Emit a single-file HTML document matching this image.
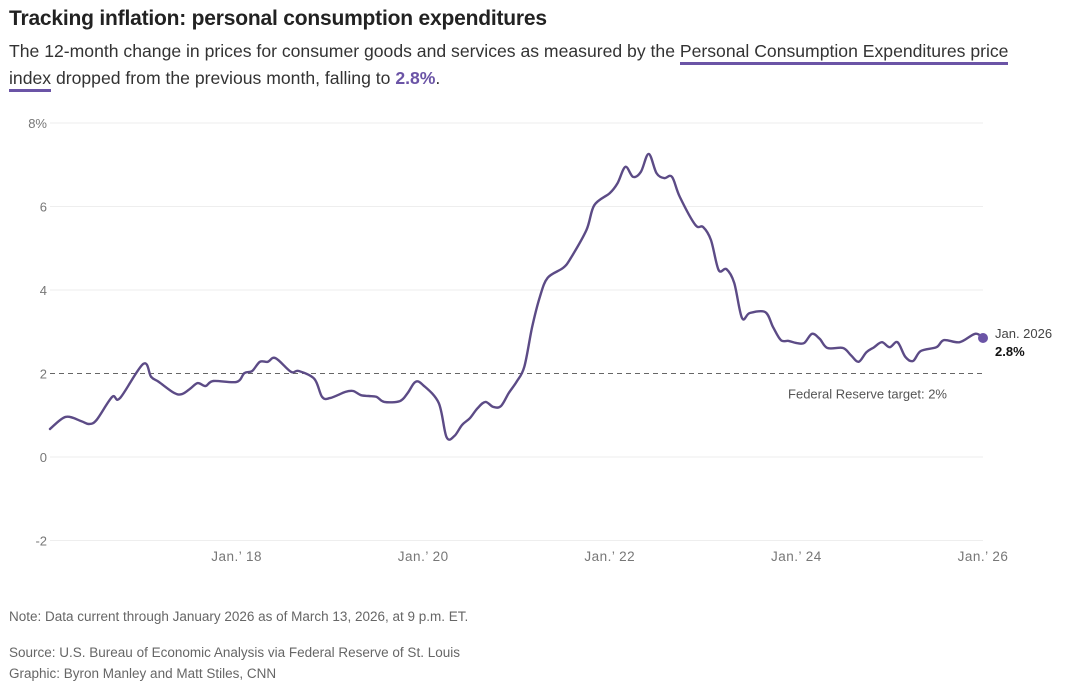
<!DOCTYPE html>
<html><head><meta charset="utf-8"><style>
body{margin:0;width:1080px;height:685px;background:#fff;font-family:"Liberation Sans",sans-serif;position:relative;overflow:hidden}
.t{position:absolute;left:9px;top:7px;font-size:21px;font-weight:bold;color:#222;letter-spacing:-0.2px}
.s{position:absolute;left:9px;top:38px;font-size:17.6px;color:#333;line-height:27px;width:1045px}
.u{border-bottom:3px solid #6b54a6;padding-bottom:1px}
.b{color:#6b54a6;font-weight:bold}
.f{position:absolute;left:9px;font-size:13.5px;color:#666}
</style></head><body>
<div class="t">Tracking inflation: personal consumption expenditures</div>
<div class="s">The 12-month change in prices for consumer goods and services as measured by the <span class="u">Personal Consumption Expenditures price index</span> dropped from the previous month, falling to <span class="b">2.8%</span>.</div>
<svg id="c" width="1080" height="685" style="position:absolute;left:0;top:0"></svg>
<div class="f" style="top:609px">Note: Data current through January 2026 as of March 13, 2026, at 9 p.m. ET.</div>
<div class="f" style="top:645px">Source: U.S. Bureau of Economic Analysis via Federal Reserve of St. Louis</div>
<div class="f" style="top:666px">Graphic: Byron Manley and Matt Stiles, CNN</div>
<script>
const months=[0,2,4,5,6,8,9,12,13,14,16,17,18,19,20,21,24,25,26,27,28,29,31,32,34,35,36,38,39,40,41,42,43,45,46,47,48,50,51,52,53,54,55,56,57,58,59,60,61,62,63,64,66,67,69,70,72,73,74,75,76,77,78,79,80,81,83,84,85,86,87,88,89,90,92,93,94,95,96,97,98,99,100,102,103,104,105,106,107,108,109,110,111,112,114,115,117,119,120];
const values=[0.67,0.96,0.86,0.79,0.89,1.44,1.41,2.23,1.92,1.8,1.53,1.51,1.63,1.77,1.7,1.82,1.8,2.01,2.06,2.28,2.28,2.37,2.04,2.06,1.87,1.44,1.41,1.56,1.58,1.48,1.46,1.44,1.32,1.34,1.53,1.8,1.72,1.29,0.48,0.5,0.77,0.93,1.17,1.32,1.2,1.22,1.53,1.8,2.16,3.1,3.83,4.29,4.53,4.77,5.44,6.03,6.32,6.56,6.95,6.71,6.83,7.26,6.8,6.68,6.71,6.23,5.56,5.51,5.2,4.48,4.5,4.17,3.33,3.45,3.47,3.11,2.8,2.78,2.73,2.73,2.95,2.83,2.61,2.61,2.44,2.28,2.51,2.63,2.75,2.63,2.75,2.4,2.3,2.54,2.63,2.8,2.75,2.95,2.85];
const yTicks=[-2,0,2,4,6,8];
const yTickLabels=["-2","0","2","4","6","8%"];
const xTicks=[24,48,72,96,120];
const xTickLabels=["Jan.\u2019 18","Jan.\u2019 20","Jan.\u2019 22","Jan.\u2019 24","Jan.\u2019 26"];
const target=2;
const NS="http://www.w3.org/2000/svg",svg=document.getElementById('c');
const x=m=>50+m*(983-50)/120, y=v=>457-v*41.75;
function mk(t,a){const e=document.createElementNS(NS,t);for(const k in a)e.setAttribute(k,a[k]);svg.appendChild(e);return e;}
yTicks.forEach((v,i)=>{
 if(v!==target){const g=mk('line',{x1:50,x2:983,y1:y(v),y2:y(v),stroke:'#eee','stroke-width':1});
 
 }
 const t=mk('text',{x:47,y:y(v)+5,'text-anchor':'end','font-size':13,fill:'#777','font-family':'Liberation Sans'});
 t.textContent=yTickLabels[i];
 
 
});
xTicks.forEach((m,i)=>{
 const t=mk('text',{x:x(m),y:561,'text-anchor':'middle','font-size':13.5,fill:'#777','font-family':'Liberation Sans','letter-spacing':'0.5'});
 t.textContent=xTickLabels[i];
 
 
});
const tl=mk('line',{x1:50,x2:983,y1:y(target),y2:y(target),stroke:'#666','stroke-width':1,'stroke-dasharray':'5,4'});


const tt=mk('text',{x:947,y:y(target)+25,'text-anchor':'end','font-size':13,fill:'#555','font-family':'Liberation Sans'});
tt.textContent='Federal Reserve target: 2%';


const P=months.map((m,i)=>[x(m),y(values[i])]);
let d='M'+P[0][0].toFixed(1)+','+P[0][1].toFixed(1);
for(let i=0;i<P.length-1;i++){
 const p0=P[Math.max(i-1,0)],p1=P[i],p2=P[i+1],p3=P[Math.min(i+2,P.length-1)],k=1/6;
 d+='C'+(p1[0]+(p2[0]-p0[0])*k).toFixed(1)+','+(p1[1]+(p2[1]-p0[1])*k).toFixed(1)+' '+(p2[0]-(p3[0]-p1[0])*k).toFixed(1)+','+(p2[1]-(p3[1]-p1[1])*k).toFixed(1)+' '+p2[0].toFixed(1)+','+p2[1].toFixed(1);
}
const p=mk('path',{d:d,fill:'none',stroke:'#5c4b86','stroke-width':2.4,'stroke-linejoin':'round','stroke-linecap':'round'});


const li=months.length-1;
const dot=mk('circle',{cx:x(months[li]),cy:y(values[li]),r:5,fill:'#6b54a6'});


const l1=mk('text',{x:995,y:338,'font-size':13,fill:'#444','font-family':'Liberation Sans'});
l1.textContent='Jan. 2026';


const l2=mk('text',{x:995,y:356,'font-size':13,'font-weight':'bold',fill:'#111','font-family':'Liberation Sans'});
l2.textContent='2.8%';


</script>
</body></html>
